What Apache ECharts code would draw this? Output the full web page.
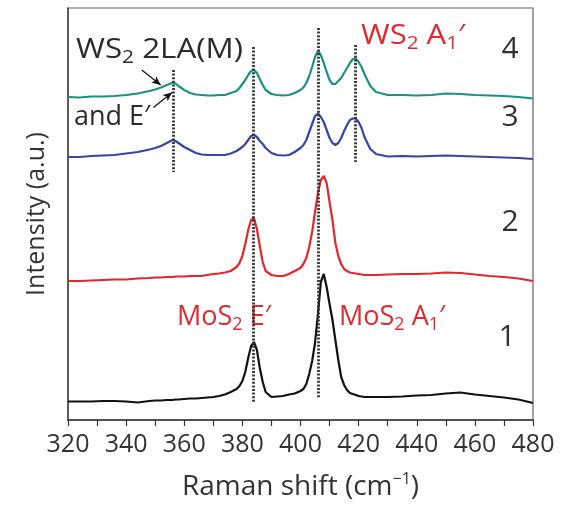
<!DOCTYPE html>
<html>
<head>
<meta charset="utf-8">
<script src="https://cdn.jsdelivr.net/npm/echarts@6/dist/echarts.min.js"></script>
<style>
html,body{margin:0;padding:0;background:#fff;}
#chart{width:562px;height:505px;}
</style>
</head>
<body>
<div id="chart"></div>
<script>
// Raman shift (cm^-1) sample positions
const shift = [320,324,328,332,336,340,344,348,350,352,354,355,356,357,358,360,362,364,366,368,370,372,374,376,378,379,380,381,382,383,384,385,386,387,388,390,392,394,396,398,400,401,402,403,404,405,406,407,408,409,410,411,412,413,414,415,416,417,418,419,420,421,422,424,426,430,435,440,445,450,455,460,465,470,475,480];

// Spectrum 1 (black, MoS2)
const spec1 = [18.5,18.5,18.5,19,19,18.5,17.5,19,19.5,19.5,20,20,20,20.5,20.5,21,21.5,21.5,22,22.5,23,24,25.5,28,31,34,39,48,62,74,78,70,52,38,28,23,23.5,24,25.5,26.5,29,31,36,46,59,77,106,138,146,133,116,100,80,60,43,35,30,27,26,25,24,23.5,23,23,23,23,23.5,24.5,25,26.5,27.5,25.5,24,22.5,20.5,17];

// Spectrum 2 (red)
const spec2 = [139,139,139.5,140,140.5,140.5,141.5,142,142.5,142.5,143,143,143,143.5,143.5,143.5,144,144,144,145,146,146.5,147.5,149,153,157,164,176,190,200,202,191,174,158,149,145,144,144,146,149,152,156,162,173,188,208,227,240,244,237,218,200,177,164,156,151,149,147.5,147,146.5,146,145.5,145,145,145,145.5,146,146,146.5,147.5,147,145.5,144,143,141.5,139];

// Spectrum 3 (blue)
const spec3 = [263,263,264,264.5,265,266.5,268,270.5,272,274,277,278.5,280,279,277,273,270,267,265.5,265,265,265,265,266.5,269,271,273,276,280,284,285,283,279,276,272,267,265,264.5,265,268,272,275,280,288,296,304,306.5,303,298,290,282,277,275,277,282,289,295,300,301.5,301.5,298,292,283,271,266,263.5,264,263.5,264,264.5,264,263.5,263,262.5,262,261];

// Spectrum 4 (teal)
const spec4 = [323,322.5,323.5,323.5,324,325,326.5,329,330.5,332.5,335,336,337.5,336.5,334,330,327,325.5,325,324.5,324.5,325,325,327,329,332,336,340,345,349,350,347,341,335,330,326,325,324.5,325,327,330,332.5,337,344,353,363,369,365,357,348,340,336,336,339,342,347,352,357,361,361.5,358,353,346,334,328,325,325,324.5,325,326.5,326,325,324.5,324,323,321.5];

// Peak guide lines: [shift, intensity from, intensity to]
const guideShift = [356.2, 383.8, 406.1, 418.8];
const guideFrom  = [350, 373, 392, 375];
const guideTo    = [248, 18, 22, 258];

// X-axis tick labels
const xTickLabels = ['320','340','360','380','400','420','440','460','480'];

const F = "'Open Sans', 'Noto Sans', sans-serif";
const RED = '#e02a30';
const TXT = '#2b2b2b';

function richSet(color, size) {
  return {
    a: {fontSize: size, fontFamily: F, fill: color, lineHeight: 34},
    s: {fontSize: Math.round(size*0.66), fontFamily: F, fill: color, lineHeight: 14, verticalAlign: 'bottom'}
  };
}

const chart = echarts.init(document.getElementById('chart'), null, {renderer: 'canvas'});

function pairs(ys) { return shift.map((x, i) => [x, ys[i]]); }

const guideData = guideShift.map((x, i) => [{coord: [x, guideFrom[i]]}, {coord: [x, guideTo[i]]}]);

const option = {
  animation: false,
  backgroundColor: '#fff',
  grid: {left: 68, right: 29, top: 8, bottom: 85, show: true, borderColor: '#666', borderWidth: 1.2, containLabel: false, outerBoundsMode: 'none'},
  xAxis: {
    type: 'value', min: 320, max: 480, interval: 10,
    axisLine: {show: true, lineStyle: {color: '#333', width: 1.5}},
    axisTick: {show: true, inside: false, length: 6, lineStyle: {color: '#333', width: 1.2}},
    axisLabel: {
      show: true, fontSize: 25, fontFamily: F, color: '#333', margin: 12,
      showMinLabel: true, showMaxLabel: true,
      formatter: function (v) { const s = String(v); return xTickLabels.indexOf(s) >= 0 ? s : ''; }
    },
    splitLine: {show: false},
    name: '{a|Raman shift (cm}{sup|−1}{a|)}',
    nameLocation: 'middle', nameGap: 51,
    nameTextStyle: {
      rich: {
        a: {fontSize: 28, fontFamily: F, color: '#333', lineHeight: 32},
        sup: {fontSize: 16, fontFamily: F, color: '#333', lineHeight: 22, verticalAlign: 'top'}
      }
    }
  },
  yAxis: {
    type: 'value', min: 0, max: 412,
    axisLine: {show: true, lineStyle: {color: '#444', width: 1.5}},
    axisTick: {show: false}, axisLabel: {show: false}, splitLine: {show: false},
    name: 'Intensity (a.u.)', nameLocation: 'middle', nameGap: 19,
    nameTextStyle: {fontSize: 25, fontFamily: F, color: '#333'}
  },
  series: [
    {
      name: '1', type: 'line', data: pairs(spec1), showSymbol: false, symbol: 'none',
      lineStyle: {color: '#111', width: 2.2}, z: 3,
      markLine: {
        silent: true, symbol: ['none', 'none'], label: {show: false},
        lineStyle: {color: '#333', width: 2.8, type: [2, 1.6]},
        data: guideData, z: 5
      }
    },
    {name: '2', type: 'line', data: pairs(spec2), showSymbol: false, symbol: 'none', lineStyle: {color: '#e5262c', width: 2.2}, z: 3},
    {name: '3', type: 'line', data: pairs(spec3), showSymbol: false, symbol: 'none', lineStyle: {color: '#3545a6', width: 2.2}, z: 3},
    {
      name: '4', type: 'line', data: pairs(spec4), showSymbol: false, symbol: 'none', lineStyle: {color: '#1b9280', width: 2.2}, z: 3,
      markLine: {
        silent: true, symbol: ['none', 'arrow'], symbolSize: [6, 9], label: {show: false},
        lineStyle: {color: '#111', width: 1.2, type: 'solid'},
        data: [
          [{coord: [345.4, 350]}, {coord: [351.9, 335]}],
          [{coord: [349.4, 312.5]}, {coord: [355.8, 327.5]}]
        ]
      }
    }
  ],
  graphic: [
    {type: 'text', x: 76, y: 50, scaleX: 1.16, style: {text: '{a|WS}{s|2}{a| 2LA(M)}', rich: richSet(TXT, 27), verticalAlign: 'middle', align: 'left'}},
    {type: 'text', x: 74, y: 117, style: {text: '{a|and E′}', rich: richSet(TXT, 27), verticalAlign: 'middle', align: 'left'}},
    {type: 'text', x: 361, y: 36, scaleX: 1.15, style: {text: '{a|WS}{s|2}{a| A}{s|1}{a|′}', rich: richSet(RED, 27), verticalAlign: 'middle', align: 'left'}},
    {type: 'text', x: 177, y: 317, style: {text: '{a|MoS}{s|2}{a| E′}', rich: richSet(RED, 27), verticalAlign: 'middle', align: 'left'}},
    {type: 'text', x: 339, y: 317, style: {text: '{a|MoS}{s|2}{a| A}{s|1}{a|′}', rich: richSet(RED, 27), verticalAlign: 'middle', align: 'left'}},
    {type: 'text', x: 510, y: 49, style: {text: '4', font: '30px ' + F, fill: '#333', verticalAlign: 'middle', align: 'center'}},
    {type: 'text', x: 510, y: 117, style: {text: '3', font: '30px ' + F, fill: '#333', verticalAlign: 'middle', align: 'center'}},
    {type: 'text', x: 510, y: 222, style: {text: '2', font: '30px ' + F, fill: '#333', verticalAlign: 'middle', align: 'center'}},
    {type: 'text', x: 507, y: 337, style: {text: '1', font: '30px ' + F, fill: '#333', verticalAlign: 'middle', align: 'center'}}
  ]
};
chart.setOption(option);
</script>
</body>
</html>
